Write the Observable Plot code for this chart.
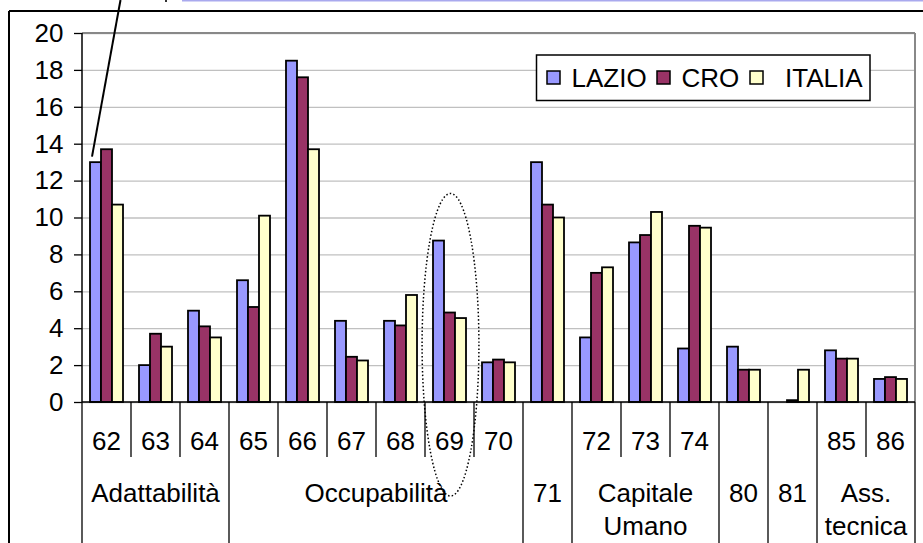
<!DOCTYPE html>
<html><head><meta charset="utf-8">
<script src="https://cdn.jsdelivr.net/npm/d3@7"></script>
<script src="https://cdn.jsdelivr.net/npm/@observablehq/plot@0.6"></script>
<style>
html,body{margin:0;padding:0;background:#fff;}
#chart{width:923px;height:543px;overflow:hidden;position:relative;}
svg{display:block;}
</style></head><body><div id="chart"></div>
<script>
// ---- data ----
const categories = ["62","63","64","65","66","67","68","69","70","71","72","73","74","80","81","85","86"];
const series = ["LAZIO","CRO","ITALIA"];
const lazio  = [13.0, 2.0, 4.95, 6.6, 18.5, 4.4, 4.4, 8.75, 2.15, 13.0, 3.5, 8.65, 2.9, 3.0, 0,   2.8, 1.25];
const cro    = [13.7, 3.7, 4.1,  5.15,17.6, 2.45,4.15,4.85, 2.3, 10.7, 7.0, 9.05, 9.55,1.75,0.1, 2.35,1.35];
const italia = [10.7, 3.0, 3.5, 10.1, 13.7, 2.25,5.8, 4.55, 2.15,10.0, 7.3, 10.3, 9.45,1.75,1.75,2.35,1.25];
const seriesColors = ["#9999ff","#993366","#ffffcc"];
const yTicks = [0,2,4,6,8,10,12,14,16,18,20];
const codeLabels = ["62","63","64","65","66","67","68","69","70","","72","73","74","","","85","86"];
const groupLabels = [["Adattabilità"],["Occupabilità"],["71"],["Capitale","Umano"],["80"],["81"],["Ass.","tecnica"]];
const groupFrom = ["62","65","71","72","80","81","85"];
const groupTo   = ["64","70","71","74","80","81","86"];
// annotations (in data terms)
const highlightCategory = "69";
const highlightCenterValue = 3.1;
const highlightRadiusValue = 8.2;
const pointerCategory = "62", pointerSeries = "LAZIO", pointerValue = 13.3;

const values = [lazio, cro, italia];
const data = [];
categories.forEach((c, i) => values.forEach((arr, j) => {
  if (arr[i] > 0) data.push({cat: c, series: series[j], value: arr[i]});
}));

const FONT = "'Liberation Sans', Arial, Helvetica, sans-serif";
const FS = 26;

const plot = Plot.plot({
  width: 923, height: 543,
  marginLeft: 81, marginRight: 8, marginTop: 33, marginBottom: 141,
  style: {fontFamily: FONT, fontSize: FS + "px", background: "transparent", color: "#000", overflow: "visible"},
  fx: {domain: categories, padding: 0, axis: null, label: null},
  x: {domain: series, paddingInner: 0, paddingOuter: 0.63, axis: null, label: null},
  y: {domain: [0, 20], axis: null, label: null},
  color: {domain: series, range: seriesColors},
  marks: [
    Plot.gridY(yTicks, {stroke: "#c0c0c0", strokeOpacity: 1, strokeWidth: 1.3}),
    Plot.barY(data, {fx: "cat", x: "series", y: "value", fill: "series", stroke: "#000", strokeWidth: 1.8}),
    Plot.axisY(yTicks, {tickSize: 8, tickPadding: 11, fontSize: FS, stroke: "#000", strokeWidth: 1.3, strokeOpacity: 1, label: null, tickFormat: d => String(d)})
  ]
});

document.getElementById("chart").appendChild(plot);

// ---- decorations computed from Plot's scales ----
const svg = d3.select(plot);
const fxS = plot.scale("fx"), xS = plot.scale("x"), yS = plot.scale("y"), cS = plot.scale("color");
const fx = v => fxS.apply(v);
const bw = fxS.bandwidth;
const xr0 = Math.min(...xS.range);
const y = v => yS.apply(v);
const left = fx(categories[0]), right = fx(categories[categories.length-1]) + bw;
const y0 = y(0), yTop = y(20);
const H = 543, W = 923;
const ov = svg.append("g").attr("class", "decor").attr("text-anchor", "start")
  .attr("font-family", FONT).attr("font-size", FS);

function line(x1, y1, x2, y2, stroke, w, dash) {
  const l = ov.append("line").attr("x1", x1).attr("y1", y1).attr("x2", x2).attr("y2", y2)
    .attr("stroke", stroke).attr("stroke-width", w);
  if (dash) l.attr("stroke-dasharray", dash);
  return l;
}
function text(x, yy, t, anchor) {
  return ov.append("text").attr("x", x).attr("y", yy).attr("text-anchor", anchor)
    .attr("font-family", FONT).attr("font-size", FS).attr("fill", "#000").text(t);
}

// chart-area border (outer black frame)
line(9, 11, W, 11, "#000", 2);
line(9, 11, 9, H, "#000", 2);
// plot-area border (top/right gray)
line(left, yTop, right, yTop, "#888", 2);
line(right, yTop, right, y0, "#888", 2);
// axes
line(left, yTop, left, y0, "#000", 1.5);
line(left, y0, right, y0, "#000", 1.5);

// category table
const shortBottom = 457;
categories.forEach((c, i) => {
  const x = fx(c);
  if (groupFrom.indexOf(c) >= 0) line(x, y0, x, H, "#000", 1.3);
  else line(x, y0, x, shortBottom, "#000", 1.3);
  if (codeLabels[i]) text(x + bw/2, 449.5, codeLabels[i], "middle");
});
line(right, y0, right, H, "#000", 1.3);
groupLabels.forEach((lines, g) => {
  const cx = (fx(groupFrom[g]) + fx(groupTo[g]) + bw) / 2;
  lines.forEach((t, k) => text(cx, 501.5 + k * 33.5, t, "middle"));
});

// dotted ellipse highlight
const ecx = fx(highlightCategory) + bw/2 + 1;
const ecy = y(highlightCenterValue);
const ery = y(highlightCenterValue - highlightRadiusValue) - ecy;
ov.append("ellipse").attr("cx", ecx).attr("cy", ecy).attr("rx", bw * 0.58).attr("ry", ery)
  .attr("fill", "none").attr("stroke", "#000").attr("stroke-width", 1.5).attr("stroke-dasharray", "1.5,2.2");

// pointer line from above the chart to the first bar
const px = fx(pointerCategory) + (xS.apply(pointerSeries) - xr0) + 2;
const py = y(pointerValue);
line(px + 28.5, 0, px, py, "#000", 2);

// cut-off link text remnants at the top
ov.append("rect").attr("x", 182).attr("y", 0).attr("width", W - 182).attr("height", 1.5).attr("fill", "#a9a9ee");
ov.append("rect").attr("x", 165).attr("y", 0).attr("width", 2).attr("height", 2).attr("fill", "#333");

// legend
const lg = ov.append("g");
lg.append("rect").attr("x", 536.5).attr("y", 55).attr("width", 333.5).attr("height", 45.5)
  .attr("fill", "#fff").attr("stroke", "#000").attr("stroke-width", 1.5);
const swX = [547, 657, 750], txX = [571.5, 681.5, 785];
series.forEach((s, i) => {
  lg.append("rect").attr("x", swX[i]).attr("y", 71).attr("width", 13).attr("height", 13)
    .attr("fill", cS.apply(s)).attr("stroke", "#000").attr("stroke-width", 1.5);
  text(txX[i], 87, s, "start");
});
</script>
</body></html>
